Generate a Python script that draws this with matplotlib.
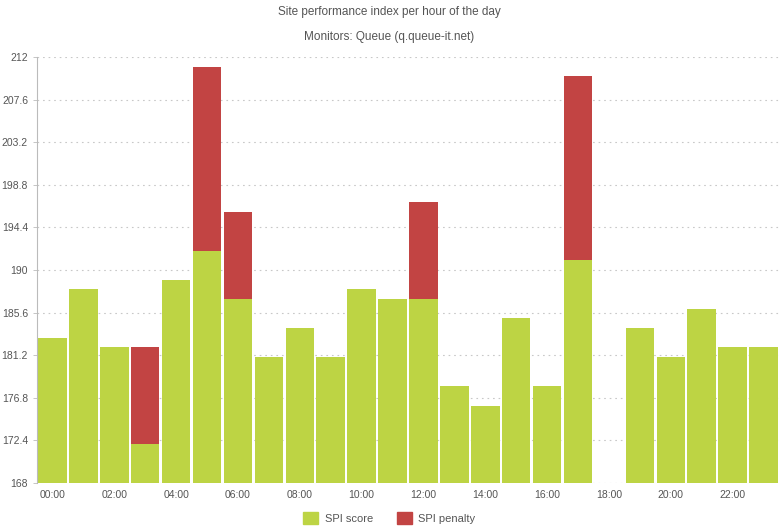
import numpy as np
import matplotlib.pyplot as plt
from matplotlib.patches import Patch

hours = [f"{h:02d}:00" for h in range(24)]
spi_score = [183, 188, 182, 172, 189, 192, 187, 181, 184, 181, 188, 187,
             187, 178, 176, 185, 178, 191, np.nan, 184, 181, 186, 182, 182]
spi_penalty = [0, 0, 0, 10, 0, 19, 9, 0, 0, 0, 0, 0,
               10, 0, 0, 0, 0, 19, np.nan, 0, 0, 0, 0, 0]
y_ticks = [168, 172.4, 176.8, 181.2, 185.6, 190, 194.4, 198.8, 203.2, 207.6, 212]

green = "#bdd444"
red = "#c24443"
txt = "#555555"

plt.rcParams["font.family"] = ["Liberation Sans", "DejaVu Sans"]

fig = plt.figure(figsize=(7.79, 5.29), dpi=100)
ax = fig.add_axes([0.0475, 0.087, 0.9525, 0.805])

x = np.arange(len(hours))
ax.bar(x, spi_score, width=0.92, color=green, zorder=2)
ax.bar(x, spi_penalty, width=0.92, bottom=spi_score, color=red, zorder=2)

ax.set_xlim(-0.5, 23.5)
ax.set_ylim(168, 212)
ax.set_yticks(y_ticks)
ax.set_yticklabels([f"{v:g}" for v in y_ticks])
ax.set_xticks(x[::2])
ax.set_xticklabels(hours[::2])
ax.tick_params(axis="x", length=0, labelsize=7.5, colors=txt, pad=5)
ax.tick_params(axis="y", length=3, labelsize=7.5, colors=txt, width=0.6)
ax.tick_params(axis="y", color="#bbbbbb")

ax.grid(axis="y", linestyle=(0, (1.5, 3.5)), color="#c8c8c8", linewidth=0.8, zorder=0)
for s in ["top", "right", "bottom"]:
    ax.spines[s].set_visible(False)
ax.spines["left"].set_color("#bbbbbb")
ax.spines["left"].set_linewidth(0.8)

fig.text(0.5, 0.977, "Site performance index per hour of the day",
         ha="center", va="center", fontsize=8.5, color=txt)
fig.text(0.5, 0.93, "Monitors: Queue (q.queue-it.net)",
         ha="center", va="center", fontsize=8.5, color=txt)

handles = [Patch(color=green, label="SPI score"), Patch(color=red, label="SPI penalty")]
fig.legend(handles=handles, loc="center", bbox_to_anchor=(0.5, 0.02), ncol=2,
           frameon=False, fontsize=8, labelcolor=txt, handlelength=1.3,
           handleheight=1.3, columnspacing=2.2, handletextpad=0.6)

fig.savefig("out.png", dpi=100)
